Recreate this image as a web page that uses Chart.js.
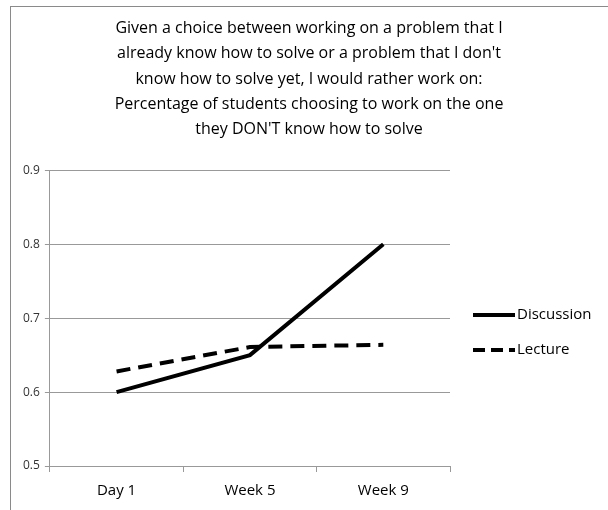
<!DOCTYPE html>
<html lang="en">
<head>
  <meta charset="UTF-8" />
  <title>Discussion vs Lecture</title>
  <script src="https://cdn.jsdelivr.net/npm/chart.js"></script>
  <style>
    body { margin: 0; background: white; overflow: hidden; font-family: "Open Sans", sans-serif; }
    .frame {
      position: absolute; left: 10px; top: 6px; width: 700px; height: 600px;
      border: 1px solid #8a8a8a;
    }
    .wrap { position: absolute; left: 0; top: 0; width: 608px; height: 510px; }
  </style>
</head>
<body>
<div class="frame"></div>
<div class="wrap"><canvas id="chart"></canvas></div>
<script>
  const titleLines = [
    "Given a choice between working on a problem that I",
    "already know how to solve or a problem that I don't",
    "know how to solve yet, I would rather work on:",
    "Percentage of students choosing to work on the one",
    "they DON'T know how to solve"
  ];
  const categories = ["Day 1", "Week 5", "Week 9"];
  const discussion = [0.6, 0.65, 0.8];
  const lecture = [0.628, 0.661, 0.664];
  const yTicks = [0.5, 0.6, 0.7, 0.8, 0.9];

  const font = '"Open Sans", "Liberation Sans", sans-serif';

  // simple legend on the right, drawn from the datasets
  const sideLegend = {
    id: "sideLegend",
    afterDraw(chart) {
      const ctx = chart.ctx;
      const x0 = chart.chartArea.right + 23;
      let y = 315;
      ctx.save();
      chart.data.datasets.forEach(ds => {
        ctx.strokeStyle = ds.borderColor;
        ctx.lineWidth = ds.borderWidth;
        ctx.setLineDash(ds.borderDash ? [12, 6] : []);
        ctx.beginPath();
        ctx.moveTo(x0, y);
        ctx.lineTo(x0 + 42, y);
        ctx.stroke();
        ctx.fillStyle = "#000";
        ctx.font = "15px " + font;
        ctx.textBaseline = "middle";
        ctx.fillText(ds.label, x0 + 44, y);
        y += 35;
      });
      ctx.restore();
    }
  };

  new Chart(document.getElementById("chart"), {
    type: "line",
    data: {
      labels: categories,
      datasets: [
        { label: "Discussion", data: discussion, borderColor: "#000",
          borderWidth: 4, pointRadius: 0, tension: 0 },
        { label: "Lecture", data: lecture, borderColor: "#000",
          borderWidth: 4, borderDash: [14, 8], pointRadius: 0, tension: 0 }
      ]
    },
    plugins: [sideLegend],
    options: {
      responsive: true,
      maintainAspectRatio: false,
      animation: false,
      layout: { padding: { left: 18, right: 8, top: 10, bottom: 0 } },
      plugins: {
        title: {
          display: true,
          text: titleLines,
          color: "#000",
          font: { family: font, size: 16, weight: "normal", lineHeight: 1.58 },
          padding: { top: 6, bottom: 28 }
        },
        legend: { display: false },
        tooltip: { enabled: false }
      },
      scales: {
        x: {
          offset: true,
          grid: { display: true, drawOnChartArea: false, offset: true, tickLength: 6, color: "#999" },
          border: { color: "#999" },
          ticks: { color: "#000", font: { family: font, size: 15 }, padding: 10 }
        },
        y: {
          min: 0.5,
          max: 0.9,
          afterBuildTicks: axis => { axis.ticks = yTicks.map(v => ({ value: v })); },
          grid: { color: "#999", tickLength: 5 },
          border: { color: "#999" },
          ticks: { color: "#333", font: { family: font, size: 12 }, padding: 5,
                   callback: v => v.toFixed(1) }
        },
        // empty axis that only keeps room for the legend on the right
        room: {
          position: "right",
          min: 0, max: 1,
          grid: { display: false },
          border: { display: false },
          ticks: { display: false },
          afterFit: s => { s.width = 150; }
        }
      }
    }
  });
</script>
</body>
</html>
